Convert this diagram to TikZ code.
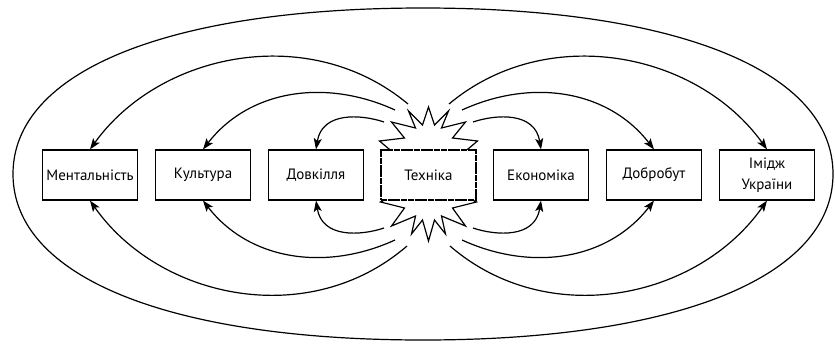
\documentclass[tikz,border=0pt]{standalone}
\usepackage{fontspec}
\setmainfont{PT Sans}
\usetikzlibrary{arrows.meta,calc}
\begin{document}
\begin{tikzpicture}[x=1pt,y=-1pt,
  box/.style={draw, line width=1.2pt, minimum width=95pt, minimum height=50pt, inner sep=0pt,
    font=\fontsize{15}{21}\selectfont, align=center, fill=white},
  arr/.style={line width=1.2pt, -{Stealth[length=11pt,width=8pt,inset=2.5pt]}},
  ln/.style={line width=1.2pt}]
\useasboundingbox (0,0) rectangle (835,343);
% outer oval
\draw[ln] (13,174) .. controls (13,71) and (169,8) .. (423,8)
  .. controls (677,8) and (833,71) .. (833,174)
  .. controls (833,277) and (677,340) .. (423,340)
  .. controls (169,340) and (13,277) .. (13,174) -- cycle;
% star
\begin{scope}[shift={(428.5,175)}]
\draw[line width=1.2pt, line join=miter] (-30,-18) -- (-49,-34) -- (-24,-37) -- (-37,-53) -- (-13,-47) -- (-20,-64) -- (-6,-50) -- (0,-68)
  -- (6,-50) -- (20,-64) -- (13,-47) -- (37,-53) -- (24,-37) -- (49,-34) -- (30,-18)
  -- (30,18) -- (48,27) -- (24,33) -- (37,51) -- (13,41) -- (17,59) -- (6,45) -- (0,66)
  -- (-6,45) -- (-17,59) -- (-13,41) -- (-37,51) -- (-24,33) -- (-48,27) -- (-30,18) -- cycle;
\end{scope}
% boxes
\node[box] (men) at (90,175) {Ментальність};
\node[box] (cul) at (203,175) {Культура};
\node[box] (dov) at (316,175) {Довкілля};
\node[box, dash pattern=on 6pt off 0.7pt] (tec) at (428.5,175) {Техніка};
\node[box] (eko) at (541,175) {Економіка};
\node[box] (dob) at (654,175) {Добробут};
\node[box] (imi) at (767,175) {Імідж\\України};
% free ends near the star
\coordinate (la1) at (408,104); \coordinate (lb1) at (395,110); \coordinate (lc1) at (384,122);
\coordinate (la2) at (407,246); \coordinate (lb2) at (395,240); \coordinate (lc2) at (384,228);
\coordinate (ra1) at (449,104); \coordinate (rb1) at (462,110); \coordinate (rc1) at (473,122);
\coordinate (ra2) at (450,246); \coordinate (rb2) at (462,240); \coordinate (rc2) at (473,228);
% left arrows
\draw[arr] (la1) .. controls (310,22) and (160,52) .. (men.north);
\draw[arr] (lb1) .. controls (325,78) and (249,90) .. (cul.north);
\draw[arr] (lc1) .. controls (360,114) and (322,112) .. (dov.north);
\draw[arr] (la2) .. controls (310,330) and (160,300) .. (men.south);
\draw[arr] (lb2) .. controls (325,272) and (249,260) .. (cul.south);
\draw[arr] (lc2) .. controls (360,236) and (322,238) .. (dov.south);
% right arrows
\draw[arr] (ra1) .. controls (547,22) and (697,52) .. (imi.north);
\draw[arr] (rb1) .. controls (532,78) and (608,90) .. (dob.north);
\draw[arr] (rc1) .. controls (497,114) and (535,112) .. (eko.north);
\draw[arr] (ra2) .. controls (547,330) and (697,300) .. (imi.south);
\draw[arr] (rb2) .. controls (532,272) and (608,260) .. (dob.south);
\draw[arr] (rc2) .. controls (497,236) and (535,238) .. (eko.south);
\end{tikzpicture}
\end{document}
